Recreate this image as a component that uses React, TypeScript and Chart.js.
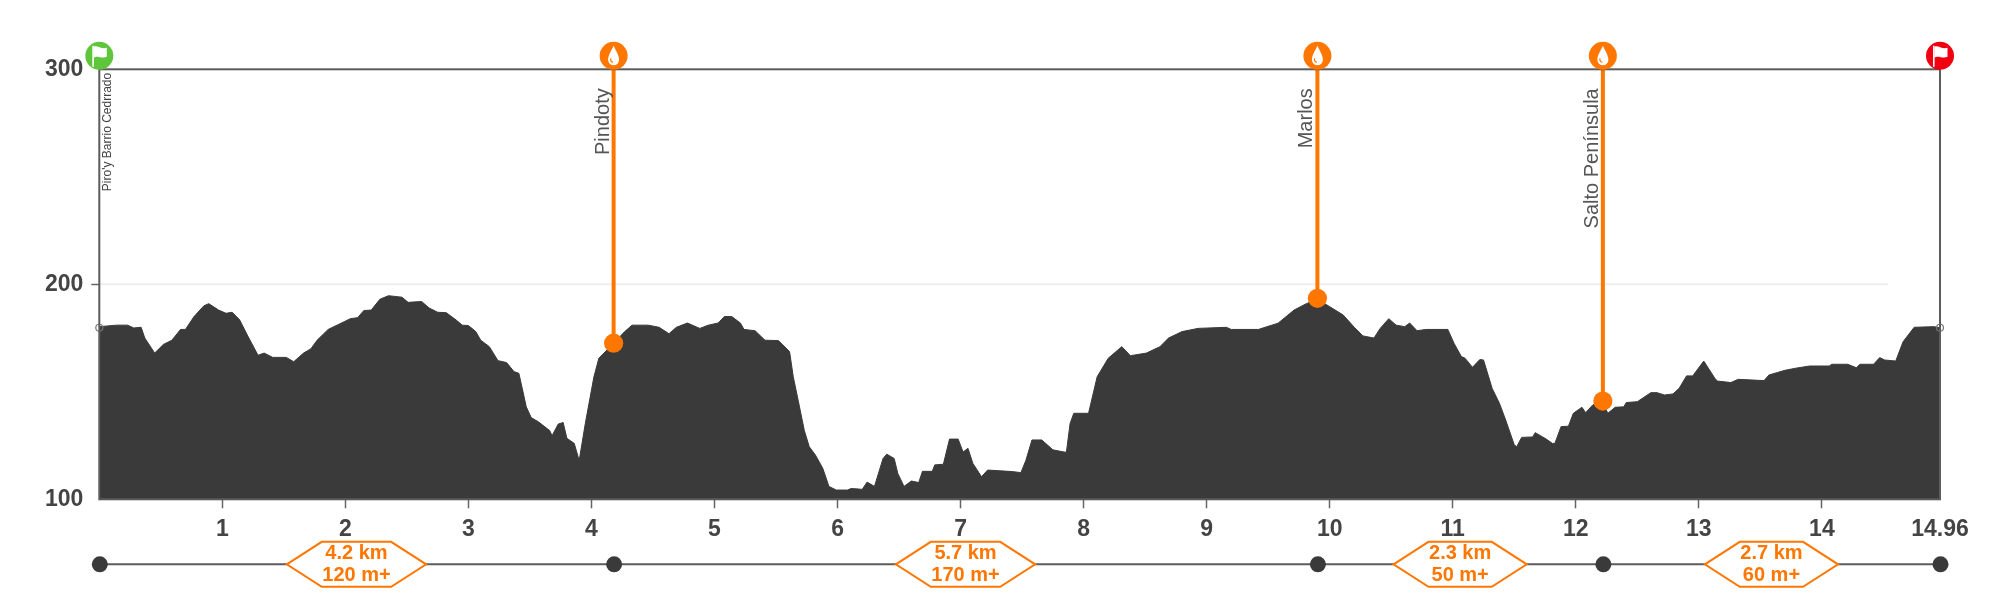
import React, { useEffect, useRef } from "react";
import { Chart, registerables } from "chart.js";

Chart.register(...registerables);

const totalKm = 14.96;

const profileKm = [
  0, 0.14, 0.23, 0.28, 0.34, 0.37, 0.45, 0.52, 0.59, 0.66, 0.7, 0.77, 0.85, 0.89, 0.97, 1.03, 1.08, 1.14, 1.21, 1.29,
  1.34, 1.41, 1.52, 1.58, 1.66, 1.72, 1.77, 1.86, 1.99, 2.04, 2.1, 2.15, 2.21, 2.28, 2.35, 2.46, 2.51, 2.62, 2.68, 2.75,
  2.82, 2.9, 2.95, 3.0, 3.06, 3.1, 3.17, 3.24, 3.31, 3.37, 3.41, 3.44, 3.47, 3.51, 3.57, 3.66, 3.68, 3.73, 3.77, 3.8,
  3.86, 3.9, 3.95, 4.02, 4.06, 4.18, 4.27, 4.33, 4.46, 4.55, 4.63, 4.69, 4.78,
  4.88, 4.95, 5.03, 5.08, 5.14, 5.21, 5.24, 5.33, 5.41, 5.52, 5.61, 5.64, 5.68, 5.73, 5.77, 5.82, 5.88, 5.93, 5.99, 6.08,
  6.11, 6.17, 6.2, 6.24, 6.3, 6.37, 6.4, 6.46, 6.49, 6.54, 6.6, 6.66, 6.69, 6.77, 6.79, 6.86, 6.91, 6.98, 7.02, 7.06,
  7.1, 7.17, 7.22, 7.42, 7.49, 7.53, 7.58, 7.66, 7.75, 7.84, 7.86, 7.89, 7.92, 8.04, 8.11, 8.2, 8.31, 8.38, 8.51, 8.62,
  8.69, 8.8, 8.93, 9.16, 9.2, 9.42, 9.58, 9.71, 9.81, 9.9, 10.0, 10.11, 10.2, 10.27, 10.36, 10.41, 10.48,
  10.54, 10.61, 10.65, 10.71, 10.78, 10.96, 11.01, 11.07, 11.1, 11.16, 11.22, 11.25, 11.32, 11.38, 11.43, 11.5, 11.52,
  11.56, 11.65, 11.67, 11.76, 11.81, 11.83, 11.88, 11.94, 11.98, 12.05, 12.08, 12.14, 12.22, 12.26, 12.32, 12.39, 12.41,
  12.5, 12.61, 12.66, 12.72, 12.79, 12.84, 12.9, 12.95, 13.04, 13.13, 13.15, 13.26, 13.32, 13.53, 13.57, 13.64, 13.7,
  13.79, 13.9, 14.06, 14.08, 14.21, 14.28, 14.31, 14.42, 14.47, 14.51, 14.6, 14.66, 14.75, 14.91, 14.96,
];

const profileElevation = [
  180.3, 181, 181, 179.7, 180, 175, 168, 172, 174, 179, 179, 185, 190, 191, 188, 186.5, 187, 183.5, 175.6, 167,
  168, 166, 166, 164, 168, 170, 174, 179, 182.6, 184, 184.5, 187.8, 188, 193, 194.7, 194, 191.6, 192, 189, 187,
  186.8, 183.4, 181, 180.8, 178, 174, 171, 164.5, 163.6, 159.4, 158.6, 150.9, 143, 138, 136, 132, 129.6, 135, 135.7, 128.4,
  126, 118, 135.3, 157, 165.6, 172.6, 178, 181, 181, 180, 177, 180, 182,
  179.5, 181, 182, 185, 185, 182, 179, 178.4, 174, 173.8, 168.7, 157, 146, 132, 124.5, 120.6, 114.4, 106, 104.3, 104.3,
  105, 104.8, 104.6, 108, 106, 119, 121, 119, 112, 106, 108.5, 107.8, 113, 113, 116, 116.3, 128, 128, 122, 123.7,
  116.7, 110.5, 113.6, 112.9, 112.4, 118, 127.6, 127.6, 123, 122, 121.9, 135.3, 140, 140, 157, 165.6, 171, 166.8, 168, 171,
  175, 178, 179.5, 180, 179, 179, 181.9, 188, 191, 193, 189.6, 185.7, 180, 176, 175, 179.5, 184,
  181, 180.3, 182, 178.4, 179, 179, 172.6, 166.4, 165.6, 161.4, 165, 164.8, 151.6, 144.6, 136.9, 125.3, 124.5,
  128.8, 129, 131, 128, 126, 126, 133.8, 134, 140, 142.8, 140.3, 144, 145, 140, 142.8, 143, 145,
  145.4, 149.6, 149.6, 148.5, 149, 151.6, 157.4, 157.4, 164.3, 156.3, 155, 154.3, 155.8, 155.2, 157.8, 159, 160,
  161, 162, 162, 162.8, 162.8, 161.2, 162.8, 162.8, 165.9, 164.8, 164.3, 173.3, 180, 180.3, 179.8,
];

const axisKmTicks = [1, 2, 3, 4, 5, 6, 7, 8, 9, 10, 11, 12, 13, 14, 14.96];
const axisElevationTicks = [100, 200, 300];

const waypointNames = ["Pindoty", "Marlos", "Salto Península"];
const waypointKm = [4.18, 9.9, 12.22];
const waypointElevation = [172.6, 193.5, 145.7];

const startName = "Piro'y Barrio Cedrrado";
const endpointElevation = [179.8, 179.8];
const gridlineEndKm = 14.54;

const segmentStops = [0, 4.18, 9.9, 12.22, 14.96];
const segmentDistance = ["4.2 km", "5.7 km", "2.3 km", "2.7 km"];
const segmentGain = ["120 m+", "170 m+", "50 m+", "60 m+"];

const ORANGE = "#ff7600";
const GREEN = "#5fc63c";
const RED = "#f00010";
const DARK = "#3a3a3a";
const FRAME = "#5c5c5c";
const FONT = '"Liberation Sans", Arial, sans-serif';

function drawFlag(ctx: CanvasRenderingContext2D, cx: number, cy: number) {
  ctx.fillStyle = "#fff";
  ctx.fillRect(cx - 7, cy - 10, 1.6, 21);
  ctx.beginPath();
  ctx.moveTo(cx - 5.6, cy - 9);
  ctx.bezierCurveTo(cx - 2, cy - 11, cx + 2, cy - 6, cx + 7.5, cy - 8);
  ctx.lineTo(cx + 7.5, cy + 1);
  ctx.bezierCurveTo(cx + 2, cy + 3, cx - 2, cy - 1, cx - 5.6, cy + 2);
  ctx.closePath();
  ctx.fill();
}

function drawDrop(ctx: CanvasRenderingContext2D, cx: number, cy: number) {
  ctx.fillStyle = "#fff";
  ctx.beginPath();
  ctx.moveTo(cx, cy - 10);
  ctx.bezierCurveTo(cx + 2, cy - 5, cx + 5.5, cy - 1, cx + 5.5, cy + 4);
  ctx.arc(cx, cy + 4, 5.5, 0, Math.PI);
  ctx.bezierCurveTo(cx - 5.5, cy - 1, cx - 2, cy - 5, cx, cy - 10);
  ctx.fill();
  ctx.strokeStyle = ORANGE;
  ctx.lineWidth = 1.2;
  ctx.beginPath();
  ctx.arc(cx, cy + 3.5, 3, Math.PI * 0.55, Math.PI * 1.1);
  ctx.stroke();
}

const decorPlugin = {
  id: "decor",
  afterDatasetsDraw(chart: any) {
    const { ctx, chartArea, scales } = chart;
    const x = scales.x;
    const { left, right, top, bottom } = chartArea;
    ctx.save();

    // frame
    ctx.strokeStyle = FRAME;
    ctx.lineWidth = 2;
    ctx.strokeRect(left, top, right - left, bottom - top);

    // rotated labels
    ctx.textBaseline = "alphabetic";
    ctx.textAlign = "right";
    ctx.fillStyle = "#555";
    ctx.font = `20px ${FONT}`;
    waypointNames.forEach((name, i) => {
      ctx.save();
      ctx.translate(x.getPixelForValue(waypointKm[i]) - 5, top + 19);
      ctx.rotate(-Math.PI / 2);
      ctx.fillText(name, 0, 0);
      ctx.restore();
    });
    ctx.save();
    ctx.fillStyle = "#444";
    ctx.font = `12px ${FONT}`;
    ctx.translate(left + 12, top + 3.5);
    ctx.rotate(-Math.PI / 2);
    ctx.fillText(startName, 0, 0);
    ctx.restore();

    // badges over the top edge
    const badgeY = top - 13.5;
    const badge = (km: number, color: string, icon: (c: any, a: number, b: number) => void) => {
      const px = x.getPixelForValue(km);
      ctx.fillStyle = color;
      ctx.beginPath();
      ctx.arc(px, badgeY, 14, 0, Math.PI * 2);
      ctx.fill();
      icon(ctx, px, badgeY);
    };
    badge(0, GREEN, drawFlag);
    waypointKm.forEach((km) => badge(km, ORANGE, drawDrop));
    badge(totalKm, RED, drawFlag);

    // segment strip
    const rowY = bottom + 65;
    ctx.strokeStyle = FRAME;
    ctx.lineWidth = 2;
    ctx.beginPath();
    ctx.moveTo(x.getPixelForValue(segmentStops[0]), rowY);
    ctx.lineTo(x.getPixelForValue(segmentStops[segmentStops.length - 1]), rowY);
    ctx.stroke();

    ctx.fillStyle = DARK;
    segmentStops.forEach((km) => {
      ctx.beginPath();
      ctx.arc(x.getPixelForValue(km) + 0.5, rowY, 8, 0, Math.PI * 2);
      ctx.fill();
    });

    ctx.font = `bold 20px ${FONT}`;
    ctx.textBaseline = "middle";
    ctx.textAlign = "center";
    segmentDistance.forEach((dist, i) => {
      const cx = x.getPixelForValue((segmentStops[i] + segmentStops[i + 1]) / 2);
      const inner = Math.max(ctx.measureText(dist).width, ctx.measureText(segmentGain[i]).width) / 2 + 0.5;
      const outer = inner + 35;
      ctx.beginPath();
      ctx.moveTo(cx - outer, rowY);
      ctx.lineTo(cx - inner, rowY - 22.5);
      ctx.lineTo(cx + inner, rowY - 22.5);
      ctx.lineTo(cx + outer, rowY);
      ctx.lineTo(cx + inner, rowY + 22.5);
      ctx.lineTo(cx - inner, rowY + 22.5);
      ctx.closePath();
      ctx.fillStyle = "#fff";
      ctx.fill();
      ctx.strokeStyle = ORANGE;
      ctx.lineWidth = 2;
      ctx.stroke();
      ctx.fillStyle = ORANGE;
      ctx.fillText(dist, cx, rowY - 10.5);
      ctx.fillText(segmentGain[i], cx, rowY + 11);
    });

    ctx.restore();
  },
};

export default function App() {
  const ref = useRef<HTMLCanvasElement | null>(null);

  useEffect(() => {
    if (!ref.current) return;
    const stems = waypointKm.map((km, i) => ({
      type: "line" as const,
      data: [
        { x: km, y: 300 },
        { x: km, y: waypointElevation[i] },
      ],
      borderColor: ORANGE,
      backgroundColor: ORANGE,
      borderWidth: 4,
      pointRadius: [0, 9.6],
      pointHoverRadius: [0, 9.6],
      pointBorderWidth: 0,
      fill: false,
      order: 1,
      clip: false as const,
    }));

    const chart = new Chart(ref.current, {
      type: "line",
      data: {
        datasets: [
          {
            data: [
              { x: 0, y: 200 },
              { x: gridlineEndKm, y: 200 },
            ],
            borderColor: "#eeeeee",
            borderWidth: 2,
            pointRadius: 0,
            fill: false,
            order: 9,
          },
          {
            data: profileKm.map((km, i) => ({ x: km, y: profileElevation[i] })),
            borderColor: DARK,
            borderWidth: 1,
            backgroundColor: DARK,
            pointRadius: 0,
            fill: "origin",
            tension: 0,
            order: 5,
          },
          {
            data: [
              { x: 0, y: endpointElevation[0] },
              { x: totalKm, y: endpointElevation[1] },
            ],
            showLine: false,
            pointRadius: 3.5,
            pointBorderWidth: 1.2,
            pointBorderColor: "#777",
            pointBackgroundColor: "rgba(255,255,255,0)",
            order: 2,
            clip: false as const,
          },
          ...stems,
        ],
      } as any,
      options: {
        responsive: false,
        animation: false,
        events: [],
        layout: { padding: { top: 69.3, right: 60, left: 0, bottom: 0 } },
        plugins: { legend: { display: false }, tooltip: { enabled: false } },
        scales: {
          x: {
            type: "linear",
            min: 0,
            max: totalKm,
            afterBuildTicks: (scale: any) => {
              scale.ticks = axisKmTicks.map((value) => ({ value }));
            },
            afterFit: (scale: any) => {
              scale.height = 100.7;
            },
            grid: {
              drawOnChartArea: false,
              drawTicks: true,
              tickLength: 9,
              tickWidth: 1.5,
              tickColor: (c: any) => (c.tick && c.tick.value === totalKm ? "rgba(0,0,0,0)" : "#666"),
            },
            border: { display: false },
            ticks: {
              autoSkip: false,
              maxRotation: 0,
              padding: 8,
              color: "#444",
              font: { family: FONT, size: 23, weight: "bold" },
              callback: (v: any) => String(v),
            },
          },
          y: {
            type: "linear",
            min: 100,
            max: 300,
            afterBuildTicks: (scale: any) => {
              scale.ticks = axisElevationTicks.map((value) => ({ value }));
            },
            afterFit: (scale: any) => {
              scale.width = 99.3;
            },
            grid: {
              drawOnChartArea: false,
              drawTicks: true,
              tickLength: 8,
              tickWidth: 1.5,
              tickColor: (c: any) => (c.tick && c.tick.value === 200 ? "#666" : "rgba(0,0,0,0)"),
            },
            border: { display: false },
            ticks: {
              padding: 8,
              color: "#444",
              font: { family: FONT, size: 23, weight: "bold" },
              callback: (v: any) => String(v),
            },
          },
        },
      } as any,
      plugins: [decorPlugin],
    });
    return () => chart.destroy();
  }, []);

  return (
    <div style={{ position: "absolute", left: 0, top: 0, width: 2000, height: 600, background: "#fff" }}>
      <canvas ref={ref} width={2000} height={600} style={{ display: "block", width: 2000, height: 600 }} />
    </div>
  );
}
